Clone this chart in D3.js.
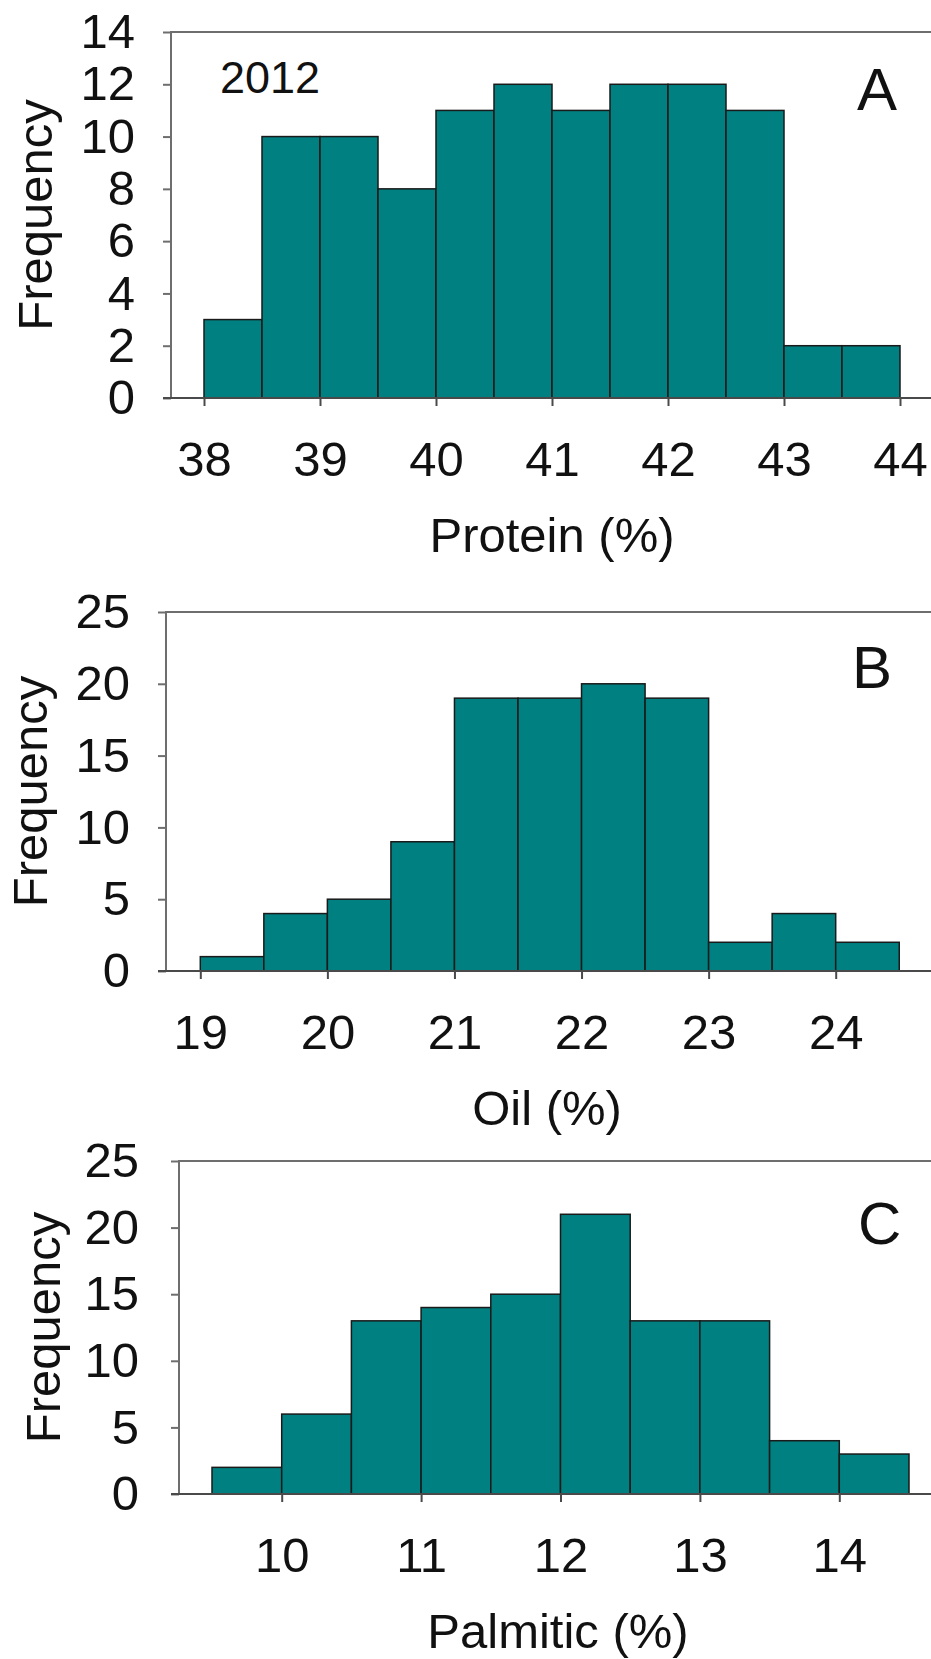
<!DOCTYPE html>
<html lang="en">
<head>
  <meta charset="UTF-8">
  <title>Frequency histograms 2012</title>
  <style>
    body {
      margin: 0;
      background: #fff;
    }
    svg text {
      font-family: "Liberation Sans", Arial, sans-serif;
      fill: #111;
    }
    .bar {
      fill: #008080;
      stroke: #1a1a1a;
      stroke-width: 1.5px;
    }
    .frame {
      stroke: #6e6e6e;
      stroke-width: 2px;
    }
  </style>
  <script src="https://d3js.org/d3.v7.min.js"></script>
</head>
<body>
  <div id="chart"></div>
  <script>
    // -----------------------------
    // Data (bin width 0.5)
    // -----------------------------
    const binWidth = 0.5;

    const proteinStart = 38;
    const proteinFreq = [3, 10, 10, 8, 11, 12, 11, 12, 12, 11, 2, 2];
    const proteinTicks = [38, 39, 40, 41, 42, 43, 44];
    const proteinYTicks = [0, 2, 4, 6, 8, 10, 12, 14];

    const oilStart = 19;
    const oilFreq = [1, 4, 5, 9, 19, 19, 20, 19, 2, 4, 2];
    const oilTicks = [19, 20, 21, 22, 23, 24];
    const oilYTicks = [0, 5, 10, 15, 20, 25];

    const palmiticStart = 9.5;
    const palmiticFreq = [2, 6, 13, 14, 15, 21, 13, 13, 4, 3];
    const palmiticTicks = [10, 11, 12, 13, 14];
    const palmiticYTicks = [0, 5, 10, 15, 20, 25];

    const titles = ["Protein (%)", "Oil (%)", "Palmitic (%)"];
    const letters = ["A", "B", "C"];
    const yearLabel = "2012";

    // -----------------------------
    // Layout of each panel
    // -----------------------------
    const W = 931, H = 1659;
    const panels = [
      { start: proteinStart, freq: proteinFreq, ticks: proteinTicks, yTicks: proteinYTicks,
        left: 171, top: 32, bottom: 398, xA: [38, 204], xB: [44, 900],
        titleX: 552, letterX: 857, letterY: 110, yPad: 28 },
      { start: oilStart, freq: oilFreq, ticks: oilTicks, yTicks: oilYTicks,
        left: 166, top: 612, bottom: 971, xA: [19, 200.3], xB: [24, 835.7],
        titleX: 547, letterX: 852, letterY: 688, yPad: 28 },
      { start: palmiticStart, freq: palmiticFreq, ticks: palmiticTicks, yTicks: palmiticYTicks,
        left: 179, top: 1161, bottom: 1494, xA: [10, 281.7], xB: [14, 839.3],
        titleX: 558, letterX: 858, letterY: 1244, yPad: 32 }
    ];

    const svg = d3.select("#chart").append("svg")
      .attr("width", W)
      .attr("height", H);

    panels.forEach((p, idx) => {
      const x = d3.scaleLinear()
        .domain([p.xA[0], p.xB[0]])
        .range([p.xA[1], p.xB[1]]);
      const y = d3.scaleLinear()
        .domain([0, d3.max(p.yTicks)])
        .range([p.bottom, p.top]);

      const g = svg.append("g");

      // bars
      g.selectAll("rect.bar")
        .data(p.freq)
        .join("rect")
        .attr("class", "bar")
        .attr("x", (d, i) => x(p.start + i * binWidth))
        .attr("width", (d, i) => x(p.start + (i + 1) * binWidth) - x(p.start + i * binWidth))
        .attr("y", d => y(d))
        .attr("height", d => y(0) - y(d));

      // top border
      g.append("line")
        .attr("class", "frame")
        .attr("x1", p.left).attr("x2", W + 10)
        .attr("y1", p.top).attr("y2", p.top);

      // y axis
      const yAxis = d3.axisLeft(y)
        .tickValues(p.yTicks)
        .tickSize(8)
        .tickPadding(p.yPad)
        .tickFormat(d3.format("d"));
      const ya = g.append("g")
        .attr("transform", `translate(${p.left},0)`)
        .call(yAxis);
      ya.select(".domain").remove();
      ya.selectAll(".tick line").attr("stroke", "#6e6e6e").attr("stroke-width", 2);
      ya.selectAll(".tick text").style("font-size", "49px");

      g.append("line")
        .attr("class", "frame")
        .attr("x1", p.left).attr("x2", p.left)
        .attr("y1", p.top - 1).attr("y2", p.bottom);

      // x axis
      const xAxis = d3.axisBottom(x)
        .tickValues(p.ticks)
        .tickSize(8)
        .tickPadding(35)
        .tickFormat(d3.format("d"));
      const xa = g.append("g")
        .attr("transform", `translate(0,${p.bottom})`)
        .call(xAxis);
      xa.select(".domain").remove();
      xa.selectAll(".tick line").attr("stroke", "#4a4a4a").attr("stroke-width", 2);
      xa.selectAll(".tick text").style("font-size", "49px");

      g.append("line")
        .attr("class", "frame")
        .style("stroke", "#4a4a4a")
        .attr("x1", p.left - 8).attr("x2", W + 10)
        .attr("y1", p.bottom).attr("y2", p.bottom);

      // axis titles
      g.append("text")
        .attr("x", p.titleX)
        .attr("y", p.bottom + 154)
        .attr("text-anchor", "middle")
        .style("font-size", "49px")
        .text(titles[idx]);

      g.append("text")
        .attr("transform", `translate(${p.left - 119},${(p.top + p.bottom) / 2}) rotate(-90)`)
        .attr("text-anchor", "middle")
        .style("font-size", "49px")
        .text("Frequency");

      // panel letter
      g.append("text")
        .attr("x", p.letterX)
        .attr("y", p.letterY)
        .style("font-size", "60px")
        .text(letters[idx]);
    });

    // year label in panel A
    svg.append("text")
      .attr("x", 220)
      .attr("y", 93)
      .style("font-size", "45px")
      .text(yearLabel);
  </script>
</body>
</html>
